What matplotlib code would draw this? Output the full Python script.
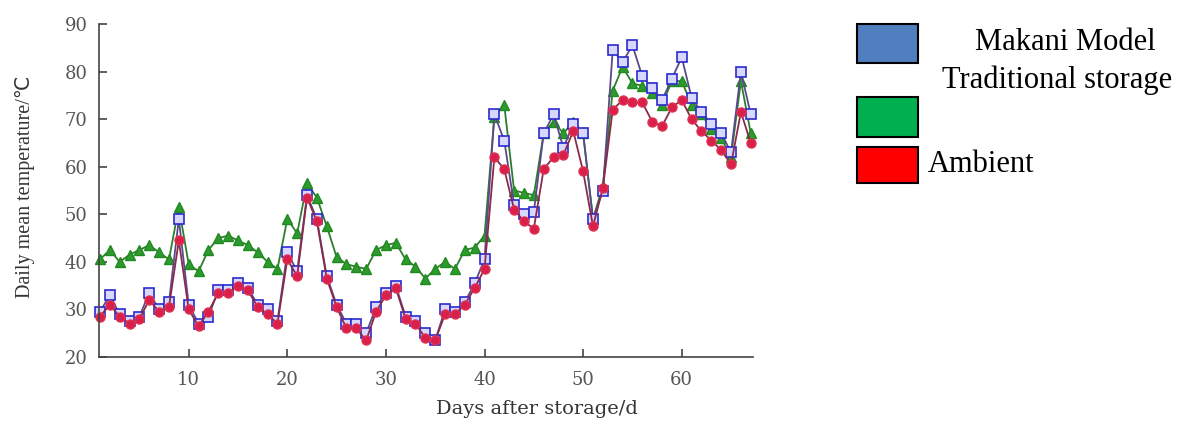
import matplotlib.pyplot as plt
from matplotlib.patches import Rectangle

days = list(range(1, 68))

makani = [29.5, 33, 29, 27.5, 28.5, 33.5, 30, 31.5, 49, 31,
          27, 28.5, 34, 34, 35.5, 34.5, 31, 30, 27.5, 42,
          38, 54, 49, 37, 31, 27, 27, 25, 30.5, 33.5,
          35, 28.5, 27.5, 25, 23.5, 30, 29.5, 31.5, 35.5, 40.5,
          71, 65.5, 52, 50, 50.5, 67, 71, 64, 69, 67,
          49, 55, 84.5, 82, 85.5, 79, 76.5, 74, 78.5, 83,
          74.5, 71.5, 69, 67, 63, 80, 71]

traditional = [40.5, 42.5, 40, 41.5, 42.5, 43.5, 42, 40.5, 51.5, 39.5,
               38, 42.5, 45, 45.5, 44.5, 43.5, 42, 40, 38.5, 49,
               46, 56.5, 53.5, 47.5, 41, 39.5, 39, 38.5, 42.5, 43.5,
               44, 40.5, 39, 36.5, 38.5, 40, 38.5, 42.5, 43, 45.5,
               70.5, 73, 55, 54.5, 54, 67, 69.5, 67, 69.5, 67,
               49, 56, 76, 81, 77.5, 77, 75.5, 73, 78, 78,
               73, 71, 68, 66, 62, 78, 67]

ambient = [28.5, 31, 28.5, 27, 28, 32, 29.5, 30.5, 44.5, 30,
           26.5, 29.5, 33.5, 33.5, 35, 34, 30.5, 29, 27, 40.5,
           37, 53.5, 48.5, 36.5, 30.5, 26, 26, 23.5, 29.5, 33,
           34.5, 28, 27, 24, 23.5, 29, 29, 31, 34.5, 38.5,
           62, 59.5, 51, 48.5, 47, 59.5, 62, 62.5, 67.5, 59,
           47.5, 55.5, 72, 74, 73.5, 73.5, 69.5, 68.5, 72.5, 74,
           70, 67.5, 65.5, 63.5, 60.5, 71.5, 65]

legend_labels = ["Makani Model", "Traditional storage", "Ambient"]
legend_colors = ["#4f7fbf", "#00b050", "#ff0000"]

plt.rcParams['font.family'] = ['Liberation Serif', 'DejaVu Sans']

fig = plt.figure(figsize=(11.78, 4.21), dpi=100)
ax = fig.add_axes([0.084, 0.152, 0.555, 0.791])

ax.plot(days, traditional, color='#2e7d2e', linewidth=1.3, marker='^', markersize=6.5,
        markerfacecolor='#2e9a2e', markeredgecolor='#1f8a1f', clip_on=False)
ax.plot(days, makani, color='#5a4a8a', linewidth=1.3, marker='s', markersize=6.5,
        markerfacecolor='#d8d8ff', markeredgecolor='#2a2ad0', markeredgewidth=1.2, clip_on=False)
ax.plot(days, ambient, color='#8a2a4a', linewidth=1.3, marker='o', markersize=6.5,
        markerfacecolor='#d8204a', markeredgecolor='#e03050', clip_on=False)

ax.set_xlim(0.9, 67.2)
ax.set_ylim(20, 90)
ax.set_xticks([10, 20, 30, 40, 50, 60])
ax.set_yticks([20, 30, 40, 50, 60, 70, 80, 90])
ax.spines['top'].set_visible(False)
ax.spines['right'].set_visible(False)
for s in ['left', 'bottom']:
    ax.spines[s].set_color('#444444')
    ax.spines[s].set_linewidth(1.2)
ax.tick_params(direction='in', length=6, width=1.2, colors='#444444')
ax.tick_params(axis='x', pad=10)
ax.tick_params(axis='y', pad=8)
for lbl in ax.get_xticklabels() + ax.get_yticklabels():
    lbl.set_family('DejaVu Serif')
    lbl.set_fontsize(13)
    lbl.set_color('#555555')

ax.set_xlabel("Days after storage/d", fontsize=14, color='#333333', family='DejaVu Serif')
ax.xaxis.set_label_coords(0.67, -0.13)
ax.set_ylabel("Daily mean temperature/℃", fontsize=14.5, color='#333333')
ax.yaxis.set_label_coords(-0.098, 0.51)

# legend drawn as boxes beside the plot
boxes = [(857, 24, 63), (857, 97, 137), (857, 147, 183)]
text_pos = [(975, 43), (942, 80), (928, 165)]
W, H = 1178, 421
for (bx, top, bot), (tx, ty), lab, col in zip(boxes, text_pos, legend_labels, legend_colors):
    fig.patches.append(Rectangle((bx / W, 1 - bot / H), 61 / W, (bot - top) / H,
                                 transform=fig.transFigure, facecolor=col,
                                 edgecolor='black', linewidth=1.5))
    fig.text(tx / W, 1 - ty / H, lab, fontsize=22, va='center', ha='left', color='black')

fig.savefig("out.png", dpi=100)
